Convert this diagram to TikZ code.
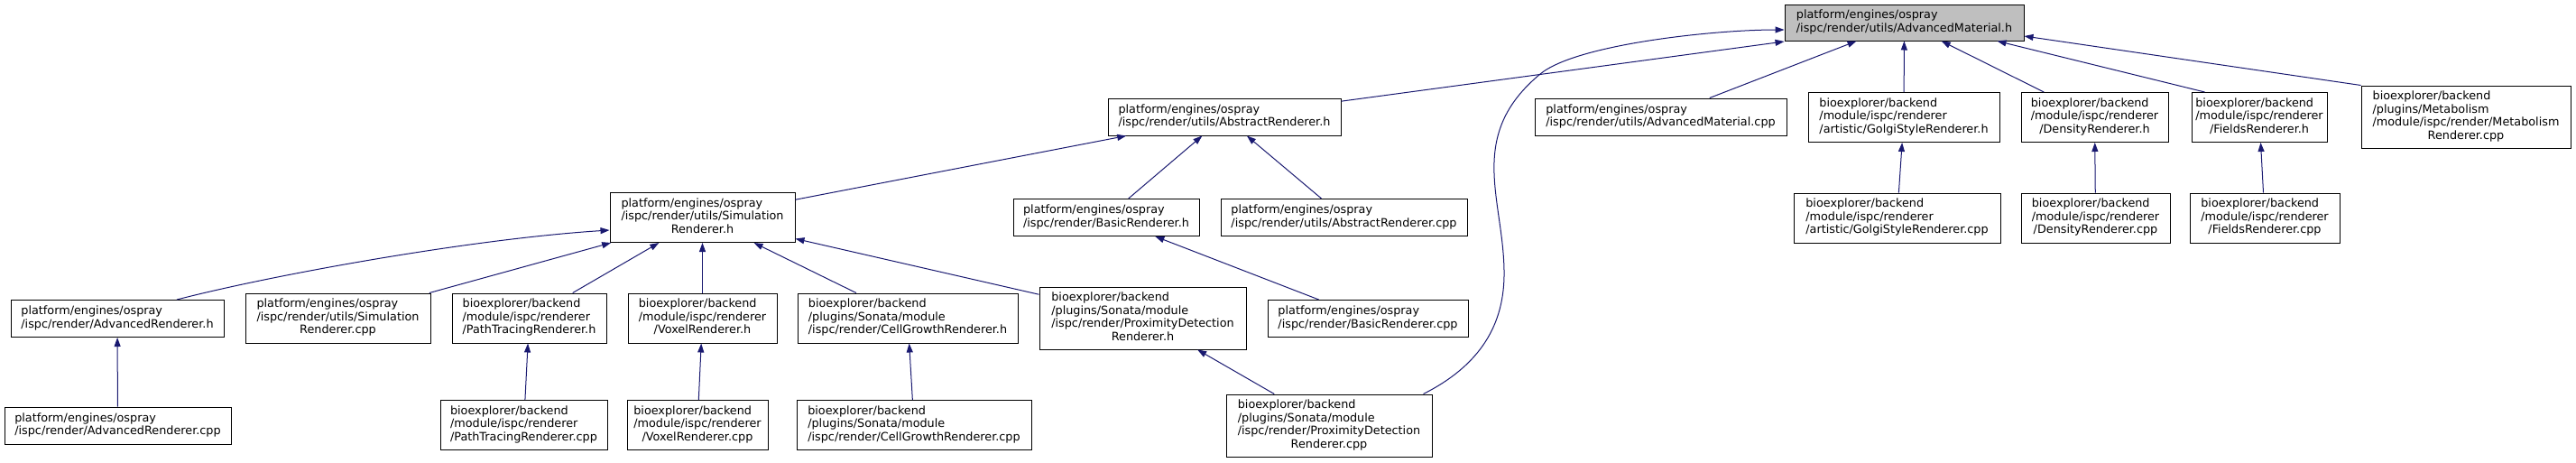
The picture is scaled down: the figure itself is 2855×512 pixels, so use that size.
\documentclass[tikz,border=0pt]{standalone}
\usepackage{fontspec}
\setmainfont{DejaVu Sans}
\usetikzlibrary{arrows.meta,calc}
\definecolor{midnightblue}{HTML}{191970}
\definecolor{rootgrey}{HTML}{BFBFBF}
\newcommand{\lbl}[2]{\begin{tabular}{@{}l@{}}#1\multicolumn{1}{@{}c@{}}{#2}\end{tabular}}
\begin{document}
\begin{tikzpicture}[x=1pt,y=-1pt,
  box/.style={draw=black,line width=1pt,fill=white,inner sep=0pt,font=\fontsize{12.8}{14.5}\selectfont},
  ltwo/.style={box,minimum height=41pt},
  lthree/.style={box,minimum height=55pt},
  lfour/.style={box,minimum height=69pt},
  edge/.style={draw=midnightblue,line width=1pt,-{Triangle[length=10pt,width=7pt]}}]
\useasboundingbox (0,0) rectangle (2855,512);
% rank 0
\node[ltwo,fill=rootgrey,minimum width=265pt,minimum height=40pt] (root) at (2110.5,25) {\lbl{platform/engines/ospray\\}{/ispc/render/utils/AdvancedMaterial.h}};
% rank 1
\node[ltwo,minimum width=258pt] (absh) at (1357,129.5) {\lbl{platform/engines/ospray\\}{/ispc/render/utils/AbstractRenderer.h}};
\node[ltwo,minimum width=279pt] (amcpp) at (1840.5,129.5) {\lbl{platform/engines/ospray\\}{/ispc/render/utils/AdvancedMaterial.cpp}};
\node[lthree,minimum width=212pt] (golgih) at (2110,130) {\lbl{bioexplorer/backend\\/module/ispc/renderer\\}{/artistic/GolgiStyleRenderer.h}};
\node[lthree,minimum width=163pt] (densh) at (2321.5,130) {\lbl{bioexplorer/backend\\/module/ispc/renderer\\}{/DensityRenderer.h}};
\node[lthree,minimum width=150pt] (fieldh) at (2504,130) {\lbl{bioexplorer/backend\\/module/ispc/renderer\\}{/FieldsRenderer.h}};
\node[lfour,minimum width=232pt] (metacpp) at (2733,129.5) {\lbl{bioexplorer/backend\\/plugins/Metabolism\\/module/ispc/render/Metabolism\\}{Renderer.cpp}};
% rank 2
\node[lthree,minimum width=205pt] (simh) at (778.5,241) {\lbl{platform/engines/ospray\\/ispc/render/utils/Simulation\\}{Renderer.h}};
\node[ltwo,minimum width=206pt] (basich) at (1226,241) {\lbl{platform/engines/ospray\\}{/ispc/render/BasicRenderer.h}};
\node[ltwo,minimum width=273pt] (abscpp) at (1489.5,241) {\lbl{platform/engines/ospray\\}{/ispc/render/utils/AbstractRenderer.cpp}};
\node[lthree,minimum width=229pt] (golgicpp) at (2102.5,241.5) {\lbl{bioexplorer/backend\\/module/ispc/renderer\\}{/artistic/GolgiStyleRenderer.cpp}};
\node[lthree,minimum width=165pt] (denscpp) at (2322.5,241.5) {\lbl{bioexplorer/backend\\/module/ispc/renderer\\}{/DensityRenderer.cpp}};
\node[lthree,minimum width=166pt] (fieldcpp) at (2510,241.5) {\lbl{bioexplorer/backend\\/module/ispc/renderer\\}{/FieldsRenderer.cpp}};
% rank 3
\node[ltwo,minimum width=236pt] (advh) at (130,353) {\lbl{platform/engines/ospray\\}{/ispc/render/AdvancedRenderer.h}};
\node[lthree,minimum width=205pt] (simcpp) at (374.5,352.5) {\lbl{platform/engines/ospray\\/ispc/render/utils/Simulation\\}{Renderer.cpp}};
\node[lthree,minimum width=171pt] (pth) at (586.5,352.5) {\lbl{bioexplorer/backend\\/module/ispc/renderer\\}{/PathTracingRenderer.h}};
\node[lthree,minimum width=165pt] (voxh) at (778.5,352.5) {\lbl{bioexplorer/backend\\/module/ispc/renderer\\}{/VoxelRenderer.h}};
\node[lthree,minimum width=244pt] (cgh) at (1006,352.5) {\lbl{bioexplorer/backend\\/plugins/Sonata/module\\}{/ispc/render/CellGrowthRenderer.h}};
\node[lfour,minimum width=229pt] (proxh) at (1266.5,352.5) {\lbl{bioexplorer/backend\\/plugins/Sonata/module\\/ispc/render/ProximityDetection\\}{Renderer.h}};
\node[ltwo,minimum width=222pt] (basiccpp) at (1516,353) {\lbl{platform/engines/ospray\\}{/ispc/render/BasicRenderer.cpp}};
% rank 4
\node[ltwo,minimum width=251pt] (advcpp) at (130.5,471.5) {\lbl{platform/engines/ospray\\}{/ispc/render/AdvancedRenderer.cpp}};
\node[lthree,minimum width=185pt] (ptcpp) at (580.5,471) {\lbl{bioexplorer/backend\\/module/ispc/renderer\\}{/PathTracingRenderer.cpp}};
\node[lthree,minimum width=156pt] (voxcpp) at (773,471) {\lbl{bioexplorer/backend\\/module/ispc/renderer\\}{/VoxelRenderer.cpp}};
\node[lthree,minimum width=260pt] (cgcpp) at (1013,471) {\lbl{bioexplorer/backend\\/plugins/Sonata/module\\}{/ispc/render/CellGrowthRenderer.cpp}};
\node[lfour,minimum width=228pt] (proxcpp) at (1473,471.5) {\lbl{bioexplorer/backend\\/plugins/Sonata/module\\/ispc/render/ProximityDetection\\}{Renderer.cpp}};
% edges to root
\draw[edge] (absh) -- ($(root.west)+(0,21)$);
\draw[edge] (amcpp) -- (root);
\draw[edge] (golgih) -- (root);
\draw[edge] (densh) -- (root);
\draw[edge] ($(fieldh.north west)+(15,0)$) -- ($(root.south east)+(-30,0)$);
\draw[edge] (metacpp.north west) -- ($(root.east)+(0,15)$);
\draw[edge] ($(proxcpp.north east)+(-10,0)$) .. controls (1640,405) and (1668,360) .. (1667,300)
  .. controls (1666,220) and (1625,150) .. (1707,82)
  .. controls (1747,49) and (1900,33) .. ($(root.west)+(0,8)$);
% rank 2 -> rank 1
\draw[edge] (simh) -- (absh);
\draw[edge] (basich) -- (absh);
\draw[edge] (abscpp) -- (absh);
\draw[edge] (golgicpp) -- (golgih);
\draw[edge] (denscpp) -- (densh);
\draw[edge] (fieldcpp) -- (fieldh);
% rank 3 -> rank 2
\draw[edge] ($(advh.north)+(66,0)$) .. controls (300,305) and (520,265) .. ($(simh.west)+(0,14)$);
\draw[edge] (simcpp) -- (simh);
\draw[edge] (pth) -- (simh);
\draw[edge] (voxh) -- (simh);
\draw[edge] (cgh) -- (simh);
\draw[edge] (proxh) -- (simh);
\draw[edge] (basiccpp) -- (basich);
% rank 4 -> rank 3
\draw[edge] (advcpp) -- (advh);
\draw[edge] (ptcpp) -- (pth);
\draw[edge] (voxcpp) -- (voxh);
\draw[edge] (cgcpp) -- (cgh);
\draw[edge] (proxcpp) -- (proxh);
\end{tikzpicture}
\end{document}
